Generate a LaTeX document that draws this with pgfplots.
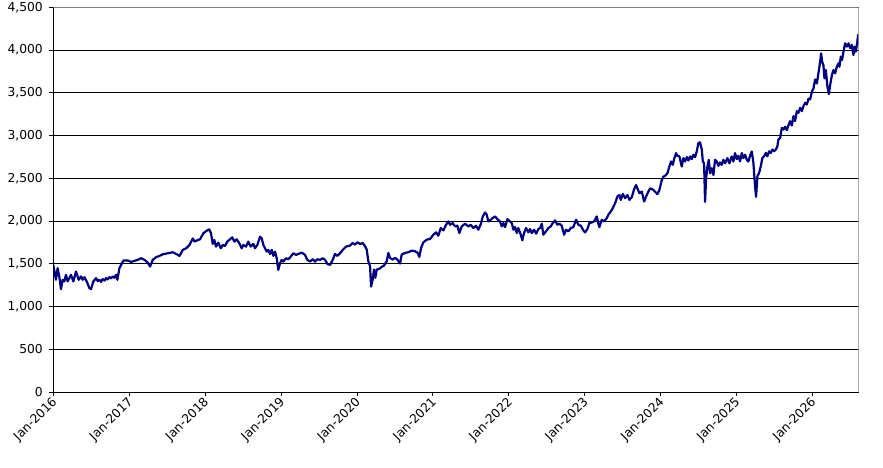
\documentclass[border=0pt]{standalone}
\usepackage{pgfplots}
\pgfplotsset{compat=1.18}
\usepackage{fontspec}
\setmainfont{DejaVu Sans}
\definecolor{indexnavy}{RGB}{0,0,128}
\definecolor{framegray}{RGB}{128,128,128}

\begin{document}
\begin{tikzpicture}
\begin{axis}[
    scale only axis,
    width=805.4pt, height=385pt,
    xmin=2016, xmax=2026.61,
    ymin=0, ymax=4500,
    axis x line*=bottom, axis y line*=left,
    axis line style={-, black, line width=1pt},
    xtick={2016,2017,...,2026},
    xticklabels={Jan-2016,Jan-2017,Jan-2018,Jan-2019,Jan-2020,Jan-2021,Jan-2022,Jan-2023,Jan-2024,Jan-2025,Jan-2026},
    ytick={0,500,...,4500},
    ymajorgrids,
    grid style={black, line width=0.8pt},
    tick align=outside,
    major tick length=4pt,
    tick style={black, line width=0.8pt},
    x tick label style={rotate=45, anchor=east, yshift=-4pt, xshift=2pt, font=\fontsize{12.3}{14}\selectfont},
    y tick label style={xshift=-3pt, font=\fontsize{12.3}{14}\selectfont},
    /pgf/number format/.cd, 1000 sep={,}, assume math mode=true,
]
% index level
\addplot[indexnavy, line width=2.2pt, line join=round] table {
x y
2016.000 1488
2016.035 1314
2016.057 1450
2016.079 1353
2016.101 1205
2016.123 1314
2016.145 1295
2016.167 1372
2016.189 1295
2016.233 1372
2016.264 1295
2016.299 1411
2016.334 1314
2016.365 1353
2016.387 1314
2016.409 1345
2016.440 1295
2016.475 1217
2016.497 1205
2016.528 1295
2016.563 1333
2016.585 1300
2016.607 1314
2016.630 1290
2016.651 1322
2016.675 1305
2016.695 1333
2016.715 1318
2016.739 1345
2016.760 1330
2016.783 1353
2016.805 1338
2016.827 1372
2016.844 1314
2016.871 1450
2016.923 1539
2016.981 1539
2017.024 1523
2017.069 1535
2017.112 1547
2017.157 1566
2017.201 1547
2017.244 1515
2017.275 1469
2017.310 1547
2017.354 1578
2017.398 1593
2017.442 1612
2017.508 1624
2017.574 1636
2017.618 1616
2017.662 1593
2017.706 1663
2017.750 1682
2017.794 1721
2017.838 1798
2017.860 1760
2017.904 1779
2017.933 1787
2017.976 1857
2018.021 1888
2018.055 1903
2018.078 1857
2018.100 1733
2018.121 1779
2018.144 1702
2018.174 1748
2018.206 1682
2018.232 1721
2018.262 1709
2018.292 1760
2018.328 1787
2018.358 1810
2018.385 1760
2018.416 1787
2018.451 1740
2018.482 1682
2018.503 1721
2018.539 1702
2018.569 1760
2018.601 1702
2018.635 1733
2018.657 1682
2018.688 1721
2018.723 1818
2018.746 1798
2018.767 1721
2018.789 1682
2018.812 1643
2018.833 1663
2018.855 1616
2018.877 1663
2018.899 1593
2018.921 1643
2018.943 1566
2018.964 1430
2018.987 1508
2019.009 1547
2019.030 1527
2019.066 1566
2019.096 1554
2019.128 1585
2019.162 1624
2019.198 1605
2019.228 1616
2019.273 1632
2019.316 1605
2019.346 1547
2019.382 1527
2019.418 1554
2019.448 1527
2019.478 1554
2019.514 1547
2019.549 1566
2019.580 1547
2019.610 1500
2019.646 1488
2019.681 1547
2019.711 1616
2019.742 1593
2019.777 1624
2019.813 1663
2019.856 1702
2019.909 1713
2019.944 1744
2019.975 1725
2020.005 1752
2020.041 1733
2020.076 1744
2020.107 1705
2020.129 1667
2020.150 1531
2020.173 1473
2020.186 1235
2020.208 1318
2020.225 1434
2020.242 1337
2020.261 1434
2020.295 1442
2020.327 1465
2020.357 1481
2020.392 1531
2020.414 1628
2020.436 1570
2020.472 1550
2020.502 1570
2020.532 1550
2020.568 1504
2020.590 1609
2020.634 1628
2020.677 1636
2020.722 1655
2020.766 1647
2020.801 1628
2020.822 1581
2020.845 1686
2020.875 1752
2020.920 1783
2020.963 1791
2021.007 1841
2021.042 1868
2021.072 1829
2021.104 1919
2021.138 1891
2021.174 1957
2021.204 1996
2021.227 1957
2021.262 1977
2021.292 1938
2021.323 1946
2021.349 1860
2021.381 1938
2021.424 1969
2021.468 1938
2021.499 1957
2021.534 1919
2021.569 1946
2021.599 1899
2021.631 1965
2021.658 2054
2021.688 2101
2021.710 2074
2021.731 1996
2021.763 2016
2021.789 2035
2021.820 2054
2021.850 2023
2021.885 1996
2021.908 1938
2021.929 1977
2021.951 1930
2021.982 2023
2022.017 1996
2022.040 1977
2022.061 1899
2022.083 1930
2022.105 1860
2022.126 1919
2022.158 1841
2022.179 1775
2022.201 1860
2022.228 1919
2022.258 1868
2022.281 1907
2022.303 1860
2022.333 1899
2022.360 1853
2022.390 1907
2022.412 1919
2022.435 1969
2022.456 1841
2022.491 1880
2022.522 1919
2022.553 1938
2022.580 1977
2022.610 2008
2022.640 1957
2022.667 1969
2022.698 1946
2022.729 1841
2022.755 1899
2022.785 1880
2022.817 1919
2022.851 1930
2022.887 2016
2022.917 1957
2022.949 1946
2022.983 1891
2023.005 1868
2023.036 1907
2023.062 1977
2023.094 1984
2023.124 1996
2023.159 2054
2023.180 1969
2023.194 1930
2023.225 2016
2023.256 1996
2023.291 2035
2023.312 2074
2023.344 2112
2023.370 2151
2023.401 2209
2023.431 2287
2023.457 2306
2023.476 2248
2023.502 2318
2023.532 2267
2023.563 2306
2023.589 2248
2023.621 2279
2023.651 2372
2023.677 2422
2023.694 2384
2023.721 2326
2023.752 2345
2023.783 2229
2023.809 2287
2023.839 2345
2023.862 2382
2023.897 2370
2023.928 2343
2023.958 2315
2023.984 2362
2024.016 2480
2024.037 2520
2024.059 2528
2024.090 2559
2024.116 2638
2024.138 2697
2024.161 2657
2024.178 2724
2024.204 2795
2024.221 2764
2024.248 2756
2024.279 2638
2024.300 2736
2024.323 2697
2024.345 2748
2024.366 2709
2024.389 2756
2024.411 2724
2024.432 2776
2024.455 2748
2024.477 2815
2024.498 2913
2024.520 2921
2024.543 2835
2024.556 2697
2024.573 2677
2024.586 2225
2024.600 2500
2024.617 2638
2024.635 2717
2024.652 2559
2024.675 2618
2024.696 2539
2024.718 2717
2024.740 2697
2024.761 2646
2024.784 2685
2024.806 2657
2024.827 2717
2024.850 2677
2024.880 2736
2024.906 2677
2024.938 2756
2024.959 2697
2024.981 2795
2025.004 2724
2025.025 2764
2025.047 2697
2025.070 2795
2025.091 2736
2025.113 2776
2025.136 2717
2025.157 2697
2025.179 2764
2025.202 2815
2025.223 2677
2025.245 2402
2025.258 2283
2025.275 2524
2025.298 2563
2025.320 2641
2025.341 2738
2025.364 2758
2025.386 2797
2025.407 2758
2025.430 2816
2025.452 2797
2025.473 2836
2025.496 2816
2025.518 2836
2025.539 2875
2025.552 2953
2025.575 2973
2025.597 3090
2025.618 3070
2025.640 3102
2025.663 3063
2025.684 3117
2025.706 3168
2025.729 3117
2025.750 3227
2025.772 3168
2025.795 3285
2025.816 3266
2025.838 3324
2025.861 3285
2025.882 3344
2025.904 3383
2025.927 3363
2025.948 3430
2025.970 3422
2025.993 3512
2026.014 3551
2026.036 3656
2026.059 3609
2026.079 3727
2026.102 3863
2026.115 3960
2026.128 3863
2026.145 3824
2026.159 3668
2026.177 3766
2026.198 3570
2026.217 3485
2026.234 3590
2026.257 3707
2026.277 3766
2026.299 3727
2026.322 3805
2026.343 3844
2026.356 3805
2026.374 3922
2026.391 3883
2026.409 3980
2026.431 4078
2026.454 4039
2026.475 4078
2026.497 4020
2026.519 4059
2026.541 3941
2026.554 4039
2026.572 3980
2026.589 4078
2026.602 4176
2026.610 4059
};
\draw[framegray, line width=2pt] (rel axis cs:0,1) -- (rel axis cs:1,1) -- (rel axis cs:1,0);
\end{axis}
\pgfresetboundingbox
\path[use as bounding box] (-53.3pt,-74.8pt) rectangle (829.7pt,392.2pt);
\end{tikzpicture}
\end{document}
